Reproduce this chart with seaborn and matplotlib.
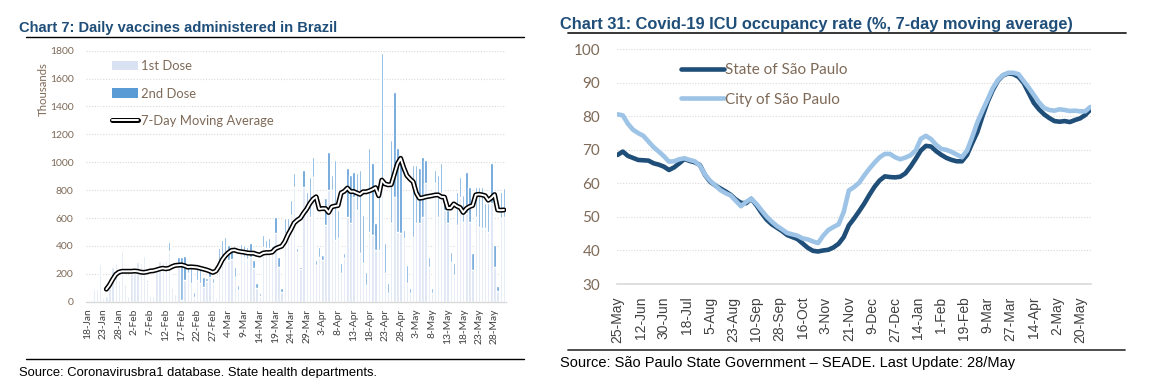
import numpy as np
import pandas as pd
import matplotlib
matplotlib.use('Agg')
import matplotlib.pyplot as plt
import seaborn as sns
from matplotlib.lines import Line2D
from matplotlib.patches import Patch

# --- Chart 7: daily vaccines (thousands), one value per day from 18-Jan ---
vac_start = '2021-01-18'
first_dose = [5, 12, 91, 91, 268, 25, 40, 172, 246, 280,
              155, 363, 124, 40, 203, 203, 282, 275, 327, 143,
              40, 38, 250, 290, 287, 298, 366, 102, 52, 251,
              10, 155, 203, 133, 36, 155, 131, 107, 147, 179,
              137, 26, 251, 322, 346, 298, 306, 179, 84, 353,
              322, 304, 323, 239, 101, 41, 394, 382, 384, 339,
              490, 251, 72, 490, 490, 621, 825, 359, 232, 825,
              633, 609, 896, 263, 323, 299, 550, 800, 800, 442,
              454, 203, 311, 609, 561, 753, 657, 346, 275, 120,
              502, 478, 370, 370, 825, 203, 60, 562, 753, 502,
              490, 454, 131, 60, 466, 562, 562, 609, 848, 251,
              60, 848, 609, 777, 657, 562, 287, 191, 550, 753,
              574, 633, 574, 227, 609, 538, 526, 526, 502, 705,
              251, 80, 600, 610]
second_dose = [0, 0, 0, 0, 0, 0, 0, 0, 0, 0,
               0, 0, 0, 0, 0, 0, 0, 0, 0, 12,
               10, 12, 0, 8, 0, 0, 59, 5, 0, 67,
               312, 172, 72, 130, 36, 108, 108, 72, 20, 60,
               30, 10, 131, 120, 120, 108, 60, 72, 36, 60,
               84, 90, 100, 60, 30, 19, 84, 60, 70, 60,
               115, 67, 24, 108, 108, 108, 95, 24, 19, 119,
               156, 287, 144, 36, 71, 36, 191, 276, 108, 574,
               203, 72, 36, 347, 347, 179, 263, 598, 346, 95,
               597, 514, 192, 407, 955, 215, 71, 597, 753, 597,
               562, 60, 132, 36, 514, 418, 394, 431, 168, 72,
               36, 96, 299, 215, 96, 95, 72, 84, 239, 143,
               191, 299, 250, 120, 215, 286, 298, 179, 203, 287,
               155, 30, 189, 203]
# 7-day moving average, starts on day 6 (24-Jan)
ma_first_day = 6
moving_avg = [90, 120, 160, 195, 212, 218, 218, 218, 218, 220,
              218, 212, 210, 214, 220, 222, 228, 235, 240, 236,
              240, 252, 260, 262, 264, 258, 248, 250, 248, 246,
              240, 234, 228, 220, 210, 220, 255, 300, 330, 352,
              368, 370, 362, 358, 355, 350, 348, 348, 340, 335,
              348, 352, 352, 356, 380, 390, 398, 430, 480, 520,
              565, 585, 600, 635, 665, 705, 735, 752, 665, 668,
              668, 640, 680, 686, 690, 780, 792, 815, 790, 790,
              780, 770, 788, 788, 795, 805, 818, 760, 872, 845,
              838, 840, 915, 990, 1028, 960, 905, 880, 860, 780,
              742, 745, 752, 756, 760, 765, 766, 752, 750, 672,
              672, 701, 685, 675, 640, 668, 682, 690, 766, 770,
              766, 760, 728, 745, 768, 658, 656, 658]
vac_ticks = ['18-Jan', '23-Jan', '28-Jan', '2-Feb', '7-Feb', '12-Feb', '17-Feb',
             '22-Feb', '27-Feb', '4-Mar', '9-Mar', '14-Mar', '19-Mar', '24-Mar',
             '29-Mar', '3-Apr', '8-Apr', '13-Apr', '18-Apr', '23-Apr', '28-Apr',
             '3-May', '8-May', '13-May', '18-May', '23-May', '28-May']

# --- Chart 31: ICU occupancy (%), read every 4 days from 25-May-2020 ---
icu_start = '2020-05-25'
icu_end = '2021-05-28'
icu_state = [68.5, 69.5, 68.2, 67.6, 67.0, 66.9, 66.8, 66.0, 65.6, 65.0,
             64.0, 64.8, 66.0, 67.3, 66.7, 66.3, 65.5, 62.5, 60.5, 59.4,
             58.5, 57.6, 56.6, 55.2, 54.2, 54.1, 55.4, 53.5, 51.2, 49.2,
             47.8, 46.8, 45.8, 44.6, 44.0, 43.4, 42.1, 40.8, 39.9, 39.7,
             40.0, 40.2, 40.9, 42.0, 44.0, 47.5, 49.5, 51.7, 54.0, 56.6,
             59.0, 60.9, 62.1, 61.9, 61.8, 62.0, 63.0, 65.0, 67.3, 69.8,
             71.2, 71.0, 69.6, 68.5, 67.6, 67.0, 66.6, 66.6, 68.5, 72.0,
             75.3, 80.0, 84.3, 87.8, 90.6, 92.2, 92.8, 92.6, 91.8, 90.0,
             87.0, 84.0, 82.1, 80.6, 79.5, 78.6, 78.4, 78.6, 78.3, 78.9,
             79.4, 80.4, 82.0]
icu_city = [80.6, 80.3, 77.8, 76.0, 75.0, 74.2, 72.5, 70.8, 69.5, 68.1,
            66.5, 66.6, 67.2, 67.5, 67.0, 66.6, 65.3, 62.6, 60.8, 59.4,
            58.0, 57.1, 56.4, 54.8, 53.2, 54.5, 55.4, 53.9, 52.0, 50.1,
            48.6, 47.3, 46.3, 45.2, 44.8, 44.4, 43.6, 43.3, 42.7, 42.2,
            44.4, 46.1, 47.0, 47.8, 51.5, 57.9, 58.9, 60.2, 62.4, 64.4,
            66.2, 67.8, 68.8, 68.8, 67.8, 67.2, 67.7, 68.4, 69.8, 73.3,
            74.2, 73.2, 71.5, 70.3, 70.0, 69.4, 68.6, 67.8, 69.8, 73.8,
            78.2, 81.7, 85.0, 88.4, 90.8, 92.3, 93.0, 93.0, 92.6, 90.6,
            88.6, 86.4, 84.2, 82.5, 81.9, 81.7, 82.1, 81.9, 81.6, 81.7,
            81.5, 81.5, 82.8]
icu_ticks = ['25-May', '12-Jun', '30-Jun', '18-Jul', '5-Aug', '23-Aug', '10-Sep',
             '28-Sep', '16-Oct', '3-Nov', '21-Nov', '9-Dec', '27-Dec', '14-Jan',
             '1-Feb', '19-Feb', '9-Mar', '27-Mar', '14-Apr', '2-May', '20-May']

# --- fonts / colours ---
sns.set_theme(style='white')
plt.rcParams['font.family'] = ['Lato', 'DejaVu Sans']
HEAD = 'Liberation Sans'

NAVY = '#1F4E79'
TICK_Y = '#7F6A58'
TICK_X = '#404040'
GRID = '#D9D9D9'

# --- data frames ---
vac_dates = pd.date_range(vac_start, periods=len(first_dose), freq='D')
vac_labels = [f"{d.day}-{d.strftime('%b')}" for d in vac_dates]
df_vac = pd.DataFrame({'day': np.arange(len(first_dose)),
                       'first': first_dose, 'second': second_dose})
df_vac['total'] = df_vac['first'] + df_vac['second']
df_ma = pd.DataFrame({'day': np.arange(ma_first_day, ma_first_day + len(moving_avg)),
                      'ma': moving_avg})

icu_dates = pd.date_range(icu_start, icu_end, freq='4D')
df_icu = pd.DataFrame({'date': icu_dates, 'state': icu_state, 'city': icu_city})
tick_dates = pd.date_range(icu_start, periods=len(icu_ticks), freq='18D')

# --- figure ---
W, H = 1152, 378
fig = plt.figure(figsize=(W / 100, H / 100), dpi=100)


def box(x0, y0, x1, y1):
    return [x0 / W, 1 - y1 / H, (x1 - x0) / W, (y1 - y0) / H]


ax1 = fig.add_axes(box(86, 50.7, 505.5, 301.7))
ax2 = fig.add_axes(box(617, 49.3, 1091, 284))

# ===== Chart 7 =====
sns.barplot(data=df_vac, x='day', y='total', native_scale=True, color='#5B9BD5',
            saturation=1, width=0.75, errorbar=None, ax=ax1, zorder=2)
sns.barplot(data=df_vac, x='day', y='first', native_scale=True, color='#D9E2F3',
            saturation=1, width=0.75, errorbar=None, ax=ax1, zorder=2)
sns.lineplot(data=df_ma, x='day', y='ma', color='black', lw=3.6, ax=ax1, zorder=3)
sns.lineplot(data=df_ma, x='day', y='ma', color='white', lw=1.4, ax=ax1, zorder=4)

ax1.set_xlim(-0.5, len(first_dose) - 0.5)
ax1.set_ylim(0, 1800)
ax1.set_yticks(range(0, 1801, 200))
ax1.set_xticks([vac_labels.index(t) for t in vac_ticks], labels=vac_ticks)
ax1.tick_params(axis='x', rotation=90, labelsize=7.4, colors=TICK_X, length=0, pad=5)
ax1.tick_params(axis='y', labelsize=7.5, colors=TICK_Y, length=0, pad=9)
ax1.set_xlabel('')
ax1.set_ylabel('Thousands', fontsize=8.2, color=TICK_Y)
ax1.yaxis.set_label_coords(-0.088, 0.847)
ax1.yaxis.grid(True, linestyle=(0, (1, 1.5)), color=GRID, lw=0.8)
ax1.set_axisbelow(True)
for s in ['top', 'right', 'left']:
    ax1.spines[s].set_visible(False)
ax1.spines['bottom'].set_color(GRID)
ax1.spines['bottom'].set_linewidth(1)

leg1_handles = [Patch(facecolor='#D9E2F3', edgecolor='none'),
                Patch(facecolor='#5B9BD5', edgecolor='none'),
                (Line2D([], [], color='black', lw=3.6), Line2D([], [], color='white', lw=1.4))]
ax1.legend(leg1_handles, ['1st Dose', '2nd Dose', '7-Day Moving Average'],
           loc='upper left', bbox_to_anchor=(0.062, 0.962), frameon=False,
           fontsize=9.4, labelcolor=TICK_Y, handlelength=2.0, handleheight=0.7,
           handletextpad=0.25, labelspacing=1.17, borderpad=0, borderaxespad=0)

# ===== Chart 31 =====
sns.lineplot(data=df_icu, x='date', y='state', color=NAVY, lw=3.3, ax=ax2,
             label='State of São Paulo', solid_capstyle='round')
sns.lineplot(data=df_icu, x='date', y='city', color='#9DC3E6', lw=3.3, ax=ax2,
             label='City of São Paulo', solid_capstyle='round')
ax2.set_xlim(pd.Timestamp(icu_start) - pd.Timedelta(days=0.5),
             pd.Timestamp(icu_end) + pd.Timedelta(days=0.5))
ax2.set_ylim(30, 100)
ax2.set_yticks(range(30, 101, 10))
ax2.set_xticks(tick_dates, labels=icu_ticks)
ax2.tick_params(axis='x', rotation=90, labelsize=10, colors=TICK_X, length=0, pad=9)
ax2.tick_params(axis='y', labelsize=11, colors=TICK_Y, length=0, pad=12)
for lab in ax2.get_xticklabels():
    lab.set_fontfamily('Liberation Sans')
ax2.set_xlabel('')
ax2.set_ylabel('')
ax2.yaxis.grid(True, linestyle=(0, (1, 1.5)), color=GRID, lw=0.8)
ax2.set_axisbelow(True)
for s in ['top', 'right', 'left']:
    ax2.spines[s].set_visible(False)
ax2.spines['bottom'].set_color(GRID)
ax2.spines['bottom'].set_linewidth(1.2)
ax2.legend(loc='upper left', bbox_to_anchor=(0.135, 0.94), frameon=False,
           fontsize=11, labelcolor=TICK_Y, handlelength=2.8, handletextpad=0.1,
           labelspacing=1.0, borderpad=0, borderaxespad=0)

# ===== titles, rules and sources =====
fig.text(19 / W, 1 - 32 / H, 'Chart 7: Daily vaccines administered in Brazil',
         family=HEAD, weight='bold', fontsize=10.6, color=NAVY, va='baseline')
fig.add_artist(Line2D([26 / W, 524 / W], [1 - 37.3 / H] * 2, color='black', lw=1))
fig.add_artist(Line2D([26 / W, 524 / W], [1 - 359.3 / H] * 2, color='black', lw=1))
fig.text(19 / W, 1 - 376 / H, 'Source: Coronavirusbra1 database. State health departments.',
         family=HEAD, fontsize=9.4, color='black', va='baseline')

fig.text(560 / W, 1 - 29 / H, 'Chart 31: Covid-19 ICU occupancy rate (%, 7-day moving average)',
         family=HEAD, weight='bold', fontsize=11.8, color=NAVY, va='baseline')
fig.add_artist(Line2D([568 / W, 1126 / W], [1 - 33.3 / H] * 2, color='#262626', lw=1.3))
fig.add_artist(Line2D([568 / W, 1125 / W], [1 - 350 / H] * 2, color='#404040', lw=1.3))
fig.text(560 / W, 1 - 366.5 / H, 'Source: São Paulo State Government – SEADE. Last Update: 28/May',
         family=HEAD, fontsize=10.5, color='black', va='baseline')

fig.savefig('out.png', dpi=100)
